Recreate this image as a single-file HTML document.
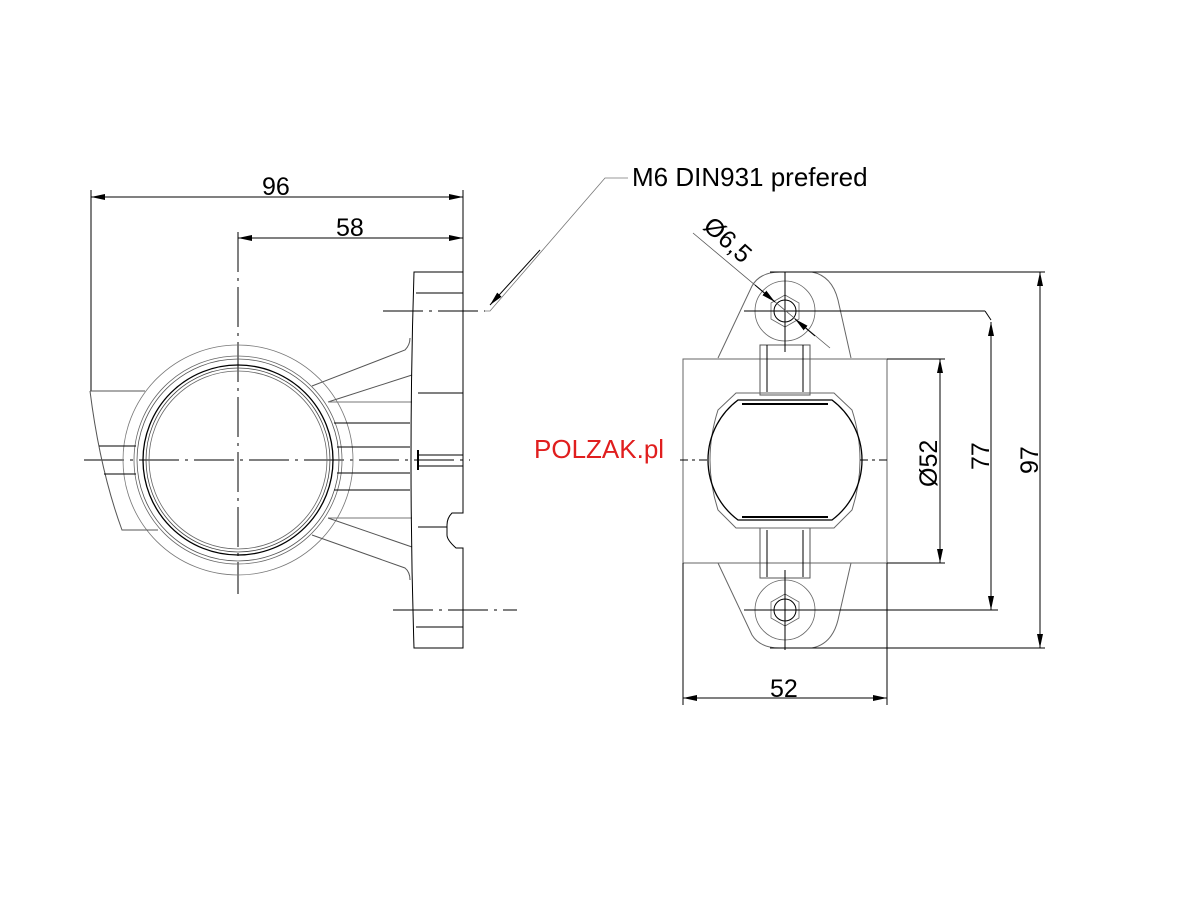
<!DOCTYPE html>
<html><head><meta charset="utf-8"><style>
html,body{margin:0;padding:0;background:#fff;}
svg{display:block;}
text{font-family:"Liberation Sans",sans-serif;}
</style></head><body>
<svg width="1201" height="900" viewBox="0 0 1201 900" xmlns="http://www.w3.org/2000/svg">
<defs>
<marker id="a" markerWidth="14" markerHeight="6" refX="14" refY="3" orient="auto" markerUnits="userSpaceOnUse"><path d="M0,0 L14,3 L0,6 z" fill="#000"/></marker>
<marker id="as" markerWidth="14" markerHeight="6" refX="0" refY="3" orient="auto" markerUnits="userSpaceOnUse"><path d="M14,0 L0,3 L14,6 z" fill="#000"/></marker>
</defs>
<g fill="none" stroke="#000" stroke-width="1">
<line x1="91" y1="190" x2="91" y2="391"/>
<line x1="463" y1="190" x2="463" y2="272"/>
<line x1="91" y1="197" x2="463" y2="197" marker-start="url(#as)" marker-end="url(#a)"/>
<line x1="238" y1="238" x2="463" y2="238" marker-start="url(#as)" marker-end="url(#a)"/>
<line x1="238" y1="232" x2="238" y2="594" stroke-dasharray="40,6,3,6"/>
<line x1="84" y1="460" x2="470" y2="460" stroke-dasharray="40,6,3,6"/>
<circle cx="238" cy="460" r="115" stroke="#777" stroke-width="0.8"/>
<circle cx="238" cy="460" r="104" stroke="#666" stroke-width="0.8"/>
<circle cx="238" cy="460" r="101" stroke="#555" stroke-width="0.8"/>
<circle cx="238" cy="460" r="95" stroke-width="1.3"/>
<circle cx="238" cy="460" r="92" stroke="#444" stroke-width="0.8"/>
<circle cx="238" cy="460" r="89" stroke="#666" stroke-width="0.8"/>
<path d="M90,391 L145,391 M90,391 Q100,470 122,530 L158,530" stroke="#555"/>
<line x1="99" y1="446" x2="136" y2="446"/>
<line x1="104" y1="474" x2="136" y2="474"/>
<path d="M312,386 L405,350 Q410,345 410,338" stroke="#555"/>
<path d="M328,402 L412,375" stroke="#555"/>
<line x1="328" y1="402" x2="412" y2="402" stroke="#777"/>
<line x1="334" y1="423" x2="410" y2="423"/>
<line x1="337" y1="447" x2="410" y2="447"/>
<line x1="337" y1="473" x2="410" y2="473"/>
<line x1="334" y1="490" x2="410" y2="490"/>
<line x1="328" y1="518" x2="412" y2="518" stroke="#777"/>
<path d="M328,518 L412,547" stroke="#555"/>
<path d="M312,535 L405,568 Q410,572 410,580" stroke="#555"/>
<path d="M414,272 L463,272 L463,513 L452,513 Q447,518 447,525 L447,535 Q447,540 456,548 L463,548 L463,648 L414,648 Q408,460 414,272 Z"/>
<line x1="416" y1="293" x2="463" y2="293"/>
<line x1="418" y1="393" x2="463" y2="393"/>
<line x1="418" y1="527" x2="447" y2="527"/>
<line x1="416" y1="627" x2="463" y2="627"/>
<line x1="418" y1="455" x2="463" y2="455"/>
<line x1="418" y1="466" x2="463" y2="466"/>
<line x1="418" y1="450" x2="418" y2="470" stroke-width="2"/>
<line x1="383" y1="311" x2="485" y2="311" stroke-dasharray="40,6,3,6"/>
<line x1="393" y1="610" x2="517" y2="610" stroke-dasharray="40,6,3,6"/>
<polyline points="485,311 490,311 605,178 628,178" stroke="#777" stroke-width="0.8"/>
<line x1="540" y1="250" x2="490" y2="305" marker-end="url(#a)"/>

<path d="M718,358 L752,286 Q760,272 780,272 L812,272 Q832,276 838,300 L851,358" stroke="#666"/>
<path d="M718,563 L752,635 Q760,648 780,648 L812,648 Q832,644 838,620 L851,563" stroke="#666"/>
<rect x="683" y="359" width="204" height="204" stroke="#666"/>
<circle cx="785" cy="311" r="30" stroke="#666" stroke-width="0.8"/>
<circle cx="785" cy="610" r="30" stroke="#666" stroke-width="0.8"/>
<polygon points="785,295 799,303 799,319 785,327 771,319 771,303" stroke="#666" stroke-width="0.8"/>
<polygon points="785,594 799,602 799,618 785,626 771,618 771,602" stroke="#666" stroke-width="0.8"/>
<circle cx="785" cy="311" r="11"/>
<circle cx="785" cy="610" r="11"/>
<rect x="760" y="345" width="50" height="50" stroke="#555"/>
<rect x="760" y="528" width="50" height="50" stroke="#555"/>
<line x1="767" y1="345" x2="767" y2="392"/><line x1="803" y1="345" x2="803" y2="392"/>
<line x1="767" y1="530" x2="767" y2="577"/><line x1="803" y1="530" x2="803" y2="577"/>
<path d="M736,393 L834,393 L852,410 Q868,460 852,510 L834,528 L736,528 L718,510 Q702,460 718,410 Z" stroke="#666"/>
<path d="M738,400 L832,400 A75,75 0 0 1 832,520 L738,520 A75,75 0 0 1 738,400 Z" stroke-width="1.3"/>
<line x1="742" y1="404" x2="828" y2="404" stroke-width="2"/>
<line x1="742" y1="517" x2="828" y2="517" stroke-width="2"/>
<line x1="785" y1="272" x2="785" y2="352"/>
<line x1="785" y1="570" x2="785" y2="650"/>
<line x1="744" y1="311" x2="985" y2="311"/>
<line x1="985" y1="311" x2="991" y2="320"/>
<line x1="744" y1="610" x2="998" y2="610"/>
<line x1="680" y1="460" x2="710" y2="460" stroke-dasharray="8,4,3,4"/>
<line x1="860" y1="460" x2="888" y2="460" stroke-dasharray="8,4,3,4"/>
<line x1="770" y1="272" x2="1045" y2="272"/>
<line x1="770" y1="648" x2="1045" y2="648"/>
<line x1="1040" y1="272" x2="1040" y2="648" marker-start="url(#as)" marker-end="url(#a)"/>
<line x1="991" y1="322" x2="991" y2="610" marker-start="url(#as)" marker-end="url(#a)"/>
<line x1="887" y1="359" x2="945" y2="359"/>
<line x1="887" y1="563" x2="945" y2="563"/>
<line x1="940" y1="359" x2="940" y2="563" marker-start="url(#as)" marker-end="url(#a)"/>
<line x1="683" y1="563" x2="683" y2="705"/>
<line x1="887" y1="563" x2="887" y2="705"/>
<line x1="683" y1="698" x2="887" y2="698" marker-start="url(#as)" marker-end="url(#a)"/>
<line x1="693" y1="233" x2="830" y2="348" stroke="#555" stroke-width="0.8"/>
<line x1="755" y1="285" x2="775" y2="302" marker-end="url(#a)"/>
<line x1="815" y1="336" x2="795" y2="319" marker-end="url(#a)"/>
</g>
<g fill="#000" font-size="25">
<text x="262" y="195">96</text>
<text x="336" y="236">58</text>
<text x="632" y="186" font-size="26">M6 DIN931 prefered</text>
<text x="770" y="697">52</text>
<text transform="translate(937,487) rotate(-90)">Ø52</text>
<text transform="translate(989,470) rotate(-90)">77</text>
<text transform="translate(1038,474) rotate(-90)">97</text>
<text transform="translate(702,228) rotate(42)">Ø6,5</text>
</g>
<text x="534" y="458" font-size="26" fill="#e01e1e">POLZAK.pl</text>
</svg>
</body></html>
